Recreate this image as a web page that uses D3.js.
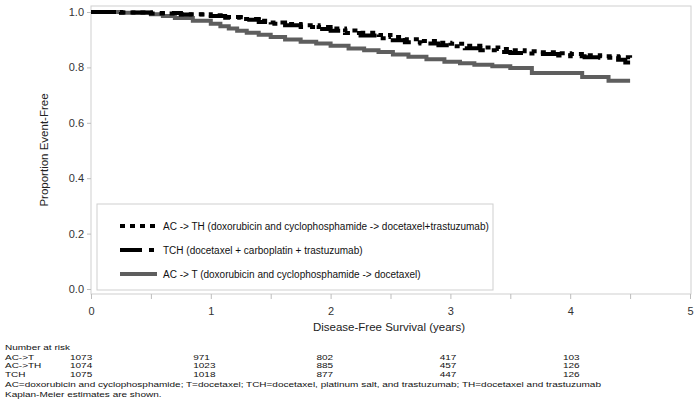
<!DOCTYPE html>
<html>
<head>
<meta charset="utf-8">
<script src="https://cdn.jsdelivr.net/npm/d3@7"></script>
<style>
  body { margin: 0; background: #fff; }
  text { font-family: "Liberation Sans", Arial, sans-serif; }
</style>
</head>
<body>
<div id="km"></div>
<script>

// Kaplan-Meier chart: disease-free survival by arm

const width = 700;
const height = 402;
const frame = {left: 91, right: 691, top: 6, bottom: 294};

// curve data (years, proportion event-free)
const acthTimes = [0, 0.25, 0.5, 0.75, 1.0, 1.12, 1.25, 1.4, 1.5, 1.62, 1.75, 1.9, 2.0, 2.12, 2.25, 2.4, 2.5, 2.62, 2.75, 2.9, 3.0, 3.12, 3.25, 3.4, 3.5, 3.62, 3.75, 3.9, 4.0, 4.12, 4.25, 4.4, 4.5];
const acthValues = [1.0, 0.998, 0.995, 0.992, 0.988, 0.982, 0.975, 0.968, 0.962, 0.957, 0.952, 0.946, 0.940, 0.933, 0.925, 0.917, 0.910, 0.902, 0.895, 0.889, 0.885, 0.878, 0.872, 0.866, 0.862, 0.858, 0.855, 0.851, 0.848, 0.844, 0.840, 0.837, 0.835];

const tchTimes = [0, 0.25, 0.5, 0.75, 1.0, 1.12, 1.25, 1.4, 1.5, 1.62, 1.75, 1.9, 2.0, 2.12, 2.25, 2.4, 2.5, 2.62, 2.75, 2.9, 3.0, 3.12, 3.25, 3.4, 3.5, 3.62, 3.75, 3.9, 4.0, 4.12, 4.25, 4.4, 4.46, 4.5];
const tchValues = [1.0, 0.998, 0.996, 0.991, 0.986, 0.979, 0.972, 0.964, 0.958, 0.952, 0.946, 0.939, 0.932, 0.924, 0.915, 0.905, 0.898, 0.891, 0.886, 0.880, 0.876, 0.869, 0.862, 0.856, 0.852, 0.850, 0.848, 0.843, 0.840, 0.837, 0.835, 0.828, 0.818, 0.818];

const actTimes = [0, 0.25, 0.5, 0.6, 0.7, 0.85, 1.0, 1.08, 1.15, 1.22, 1.3, 1.4, 1.5, 1.62, 1.75, 1.88, 2.0, 2.15, 2.28, 2.4, 2.52, 2.65, 2.8, 2.95, 3.08, 3.2, 3.35, 3.5, 3.68, 4.1, 4.32, 4.5];
const actValues = [1.0, 0.997, 0.992, 0.986, 0.978, 0.968, 0.958, 0.949, 0.940, 0.932, 0.925, 0.918, 0.910, 0.901, 0.893, 0.886, 0.878, 0.868, 0.862, 0.856, 0.847, 0.838, 0.829, 0.820, 0.815, 0.810, 0.804, 0.798, 0.780, 0.765, 0.752, 0.752];

const legendLabels = [
  "AC -> TH (doxorubicin and cyclophosphamide -> docetaxel+trastuzumab)",
  "TCH (docetaxel + carboplatin + trastuzumab)",
  "AC -> T (doxorubicin and cyclophosphamide -> docetaxel)"
];

// number at risk table
const riskTimes = [0, 1, 2, 3, 4];
const riskArms = ["AC->T", "AC->TH", "TCH"];
const riskACT = [1073, 971, 802, 417, 103];
const riskACTH = [1074, 1023, 885, 457, 126];
const riskTCH = [1075, 1018, 877, 447, 126];

const xTicks = [0, 1, 2, 3, 4, 5];
const xMinorTicks = [0.5, 1.5, 2.5, 3.5, 4.5];
const yTicks = [0, 0.2, 0.4, 0.6, 0.8, 1.0];

const svg = d3.select("#km")
  .append("svg")
  .attr("width", width)
  .attr("height", height);

svg.append("rect").attr("width", width).attr("height", height).attr("fill", "#fff");

// scales
let xScale = d3.scaleLinear().domain([0, 5]).range([frame.left, 690]);
let yScale = d3.scaleLinear().domain([0, 1]).range([289, 12]);

// plot frame
svg.append("rect")
  .attr("x", frame.left)
  .attr("y", frame.top)
  .attr("width", frame.right - frame.left)
  .attr("height", frame.bottom - frame.top)
  .attr("fill", "none")
  .attr("stroke", "#cfcfcf");

// y axis
const yAxis = svg.append("g")
  .attr("transform", `translate(${frame.left},0)`)
  .call(d3.axisLeft(yScale).tickValues(yTicks).tickFormat(d3.format(".1f"))
    .tickSize(4).tickSizeOuter(0).tickPadding(3));
yAxis.select(".domain").remove();

// x axis (major + minor ticks)
const xAxis = svg.append("g")
  .attr("transform", `translate(0,${frame.bottom})`)
  .call(d3.axisBottom(xScale).tickValues(xTicks).tickFormat(d3.format("d"))
    .tickSize(5).tickSizeOuter(0).tickPadding(8));
xAxis.select(".domain").remove();

svg.append("g")
  .attr("transform", `translate(0,${frame.bottom})`)
  .call(d3.axisBottom(xScale).tickValues(xMinorTicks).tickFormat("").tickSize(5).tickSizeOuter(0))
  .select(".domain").remove();

svg.selectAll(".tick line").attr("stroke", "#bdbdbd");
svg.selectAll(".tick text")
  .attr("font-family", "Liberation Sans, Arial, sans-serif")
  .attr("font-size", "11px")
  .attr("fill", "#333");

// axis titles
svg.append("text")
  .attr("x", 389)
  .attr("y", 331)
  .attr("text-anchor", "middle")
  .attr("font-size", "11.5px")
  .attr("fill", "#222")
  .text("Disease-Free Survival (years)");

svg.append("text")
  .attr("transform", "translate(48,150) rotate(-90)")
  .attr("text-anchor", "middle")
  .attr("font-size", "11.5px")
  .attr("fill", "#222")
  .text("Proportion Event-Free");

// curves
const line = d3.line()
  .x(d => xScale(d[0]))
  .y(d => yScale(d[1]))
  .curve(d3.curveStepAfter);

const series = [
  {name: "act", pts: d3.zip(actTimes, actValues), color: "#5e5e5e", dash: null},
  {name: "tch", pts: d3.zip(tchTimes, tchValues), color: "#000", dash: "22,7,5,7"},
  {name: "acth", pts: d3.zip(acthTimes, acthValues), color: "#000", dash: "5,5"}
];

svg.selectAll(".km")
  .data(series)
  .enter()
  .append("path")
    .attr("class", "km")
    .attr("d", d => line(d.pts))
    .attr("fill", "none")
    .attr("stroke", d => d.color)
    .attr("stroke-width", 4)
    .attr("stroke-dasharray", d => d.dash);

// legend
const legendStyle = [series[2], series[1], series[0]];
svg.append("rect")
  .attr("x", 97).attr("y", 204)
  .attr("width", 396).attr("height", 86)
  .attr("fill", "#fff")
  .attr("stroke", "#cfcfcf");

const rowY = d3.scalePoint().domain(d3.range(3)).range([226, 274]);

const leg = svg.selectAll(".leg")
  .data(legendLabels)
  .enter()
  .append("g")
    .attr("class", "leg")
    .attr("transform", (d, i) => `translate(0,${rowY(i)})`);

leg.append("line")
  .attr("x1", 120).attr("x2", 157)
  .attr("stroke", (d, i) => legendStyle[i].color)
  .attr("stroke-width", 4)
  .attr("stroke-dasharray", (d, i) => legendStyle[i].dash);

leg.append("text")
  .attr("x", 163)
  .attr("dy", "0.35em")
  .attr("font-size", "10px")
  .attr("fill", "#111")
  .text(d => d);

// number at risk (text squeezed vertically like the original)
const squeeze = 0.74;
const riskX = d3.scaleLinear().domain([0, 4]).range([70, 563]);
const riskRows = [riskACT, riskACTH, riskTCH];
const tableY = d3.scalePoint().domain(d3.range(3)).range([359.5, 376.5]);

function tableText(x, y, str) {
  return svg.append("text")
    .attr("transform", `translate(${x},${y}) scale(1,${squeeze})`)
    .attr("font-size", "10px")
    .attr("fill", "#111")
    .text(str);
}

tableText(5, 350, "Number at risk");

riskRows.forEach((row, r) => {
  tableText(5, tableY(r), riskArms[r]);
  row.forEach((d, i) => tableText(riskX(riskTimes[i]), tableY(r), d));
});

tableText(5, 386.5, "AC=doxorubicin and cyclophosphamide; T=docetaxel; TCH=docetaxel, platinum salt, and trastuzumab; TH=docetaxel and trastuzumab");
tableText(5, 397, "Kaplan-Meier estimates are shown.");

</script>
</body>
</html>
